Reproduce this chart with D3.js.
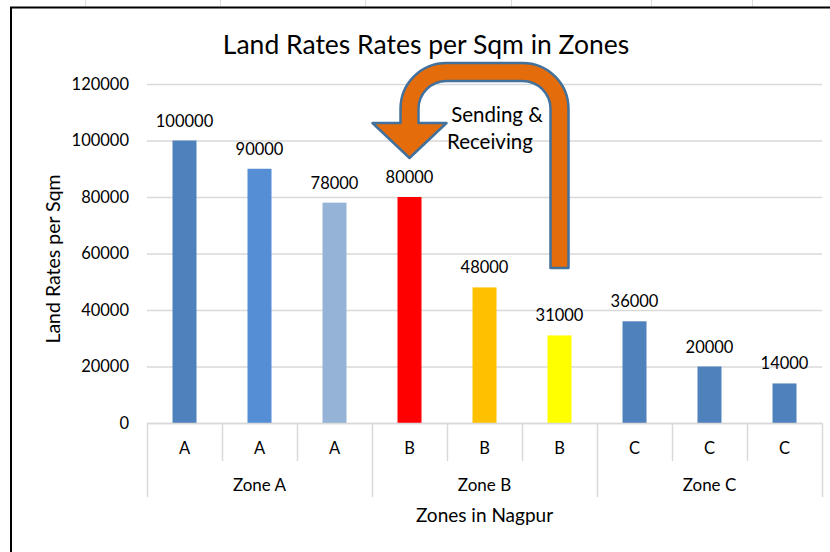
<!DOCTYPE html>
<html>
<head>
<meta charset="utf-8">
<script src="https://cdn.jsdelivr.net/npm/d3@7"></script>
<style>
    body { margin: 0; background: #fff; }
    text { font-family: Lato, "Open Sans", sans-serif; fill: #000; }
</style>
</head>
<body>
<div id="chart"></div>
<script>
// Chart data
const subCats = ["A", "A", "A", "B", "B", "B", "C", "C", "C"];
const zones = ["Zone A", "Zone B", "Zone C"];
const rates = [100000, 90000, 78000, 80000, 48000, 31000, 36000, 20000, 14000];
const barColors = ["#4F81BD", "#558ED5", "#95B3D7", "#FF0000", "#FFC000", "#FFFF00", "#4F81BD", "#4F81BD", "#4F81BD"];
const yTicks = [0, 20000, 40000, 60000, 80000, 100000, 120000];

const width = 830, height = 552;
const plot = { left: 147, right: 822, top: 84, bottom: 423 };

const svg = d3.select('#chart').append('svg')
    .attr('width', width)
    .attr('height', height);

svg.append('rect').attr('width', width).attr('height', height).attr('fill', '#fff');

// faint sheet cell lines behind the chart
[85, 220, 365, 511, 651, 752].forEach(x => {
    svg.append('line')
        .attr('x1', x + 0.5).attr('x2', x + 0.5)
        .attr('y1', 0).attr('y2', 7)
        .attr('stroke', '#dcdcdc');
});

// chart frame
svg.append('path')
    .attr('d', `M11,${height} V7.5 H${width}`)
    .attr('fill', 'none')
    .attr('stroke', '#000')
    .attr('stroke-width', 2);

const idx = d3.range(subCats.length);

const x = d3.scaleBand()
    .domain(idx)
    .range([plot.left, plot.right])
    .paddingInner(0.68)
    .paddingOuter(0.34);

const xCat = d3.scaleBand()
    .domain(idx)
    .range([plot.left, plot.right]);

const y = d3.scaleLinear()
    .domain([0, 120000])
    .range([plot.bottom, plot.top]);

// Title
svg.append('text')
    .attr('x', 426)
    .attr('y', 54)
    .attr('text-anchor', 'middle')
    .attr('font-size', '26.5px')
    .text('Land Rates Rates per Sqm in Zones');

// gridlines + y tick labels
const yAxis = d3.axisLeft(y).tickValues(yTicks).tickSize(-(plot.right - plot.left)).tickPadding(18).tickFormat(d3.format('d'));
const gy = svg.append('g')
    .attr('transform', `translate(${plot.left},0)`)
    .call(yAxis);
gy.select('.domain').remove();
gy.selectAll('.tick line').attr('stroke', '#d9d9d9').attr('stroke-width', 1.5);
gy.selectAll('.tick text')
    .attr('font-size', '16.5px')
    .attr('font-family', 'Lato, "Open Sans", sans-serif')
    .attr('fill', '#000');

// Y axis title
svg.append('text')
    .attr('transform', `translate(60, 259) rotate(-90)`)
    .attr('text-anchor', 'middle')
    .attr('font-size', '19.5px')
    .text('Land Rates per Sqm');

// Bars
svg.selectAll('.bar')
    .data(rates)
    .enter()
    .append('rect')
    .attr('class', 'bar')
    .attr('x', (d, i) => x(i))
    .attr('y', d => y(d))
    .attr('width', x.bandwidth())
    .attr('height', d => y(0) - y(d))
    .attr('fill', (d, i) => barColors[i]);

// Data labels
svg.selectAll('.label')
    .data(rates)
    .enter()
    .append('text')
    .attr('class', 'label')
    .attr('x', (d, i) => x(i) + x.bandwidth() / 2)
    .attr('y', d => y(d) - 14)
    .attr('text-anchor', 'middle')
    .attr('font-size', '16.5px')
    .text(d => d);

// Category axis (multi-level)
const axisColor = '#d9d9d9';
const catY = 461, zoneY = 497;
svg.append('line')
    .attr('x1', plot.left).attr('x2', plot.right)
    .attr('y1', plot.bottom + 0.5).attr('y2', plot.bottom + 0.5)
    .attr('stroke', axisColor).attr('stroke-width', 1.5);

d3.range(subCats.length + 1).forEach(k => {
    const xx = Math.round(plot.left + k * xCat.step()) + 0.5;
    svg.append('line')
        .attr('x1', xx).attr('x2', xx)
        .attr('y1', plot.bottom)
        .attr('y2', k % 3 === 0 ? zoneY : catY)
        .attr('stroke', axisColor).attr('stroke-width', 1.5);
});

svg.selectAll('.cat')
    .data(subCats)
    .enter()
    .append('text')
    .attr('class', 'cat')
    .attr('x', (d, i) => xCat(i) + xCat.step() / 2)
    .attr('y', 454)
    .attr('text-anchor', 'middle')
    .attr('font-size', '16.5px')
    .text(d => d);

svg.selectAll('.zone')
    .data(zones)
    .enter()
    .append('text')
    .attr('class', 'zone')
    .attr('x', (d, i) => xCat(i * 3) + xCat.step() * 1.5)
    .attr('y', 491)
    .attr('text-anchor', 'middle')
    .attr('font-size', '17px')
    .text(d => d);

svg.append('text')
    .attr('x', (plot.left + plot.right) / 2)
    .attr('y', 522)
    .attr('text-anchor', 'middle')
    .attr('font-size', '19px')
    .text('Zones in Nagpur');

// U-turn arrow: from bar "B" (31000) back to bar "B" (80000)
const cxL = x(3) + x.bandwidth() / 2;
const cxR = x(5) + x.bandwidth() / 2;
const sw = 18, R = 46, r = R - sw;
const topO = 63, topI = topO + sw;
const headY = 123, tipY = 158, headHalf = 37;
const shaftBottom = 268;
const lo = cxL - sw / 2, li = cxL + sw / 2;
const ri = cxR - sw / 2, ro = cxR + sw / 2;

const arrowPath = [
    `M${ro},${shaftBottom}`,
    `V${topO + R}`,
    `A${R},${R} 0 0 0 ${ro - R},${topO}`,
    `H${lo + R}`,
    `A${R},${R} 0 0 0 ${lo},${topO + R}`,
    `V${headY}`,
    `H${cxL - headHalf}`,
    `L${cxL},${tipY}`,
    `L${cxL + headHalf},${headY}`,
    `H${li}`,
    `V${topI + r}`,
    `A${r},${r} 0 0 1 ${li + r},${topI}`,
    `H${ri - r}`,
    `A${r},${r} 0 0 1 ${ri},${topI + r}`,
    `V${shaftBottom}`,
    'Z'
].join(' ');

svg.append('path')
    .attr('d', arrowPath)
    .attr('fill', '#E46C0A')
    .attr('stroke', '#41719C')
    .attr('stroke-width', 2.5)
    .attr('stroke-linejoin', 'round');

svg.append('text')
    .attr('x', 497)
    .attr('y', 122)
    .attr('text-anchor', 'middle')
    .attr('font-size', '20.5px')
    .text('Sending &');

svg.append('text')
    .attr('x', 490)
    .attr('y', 149)
    .attr('text-anchor', 'middle')
    .attr('font-size', '20.5px')
    .text('Receiving');
</script>
</body>
</html>
